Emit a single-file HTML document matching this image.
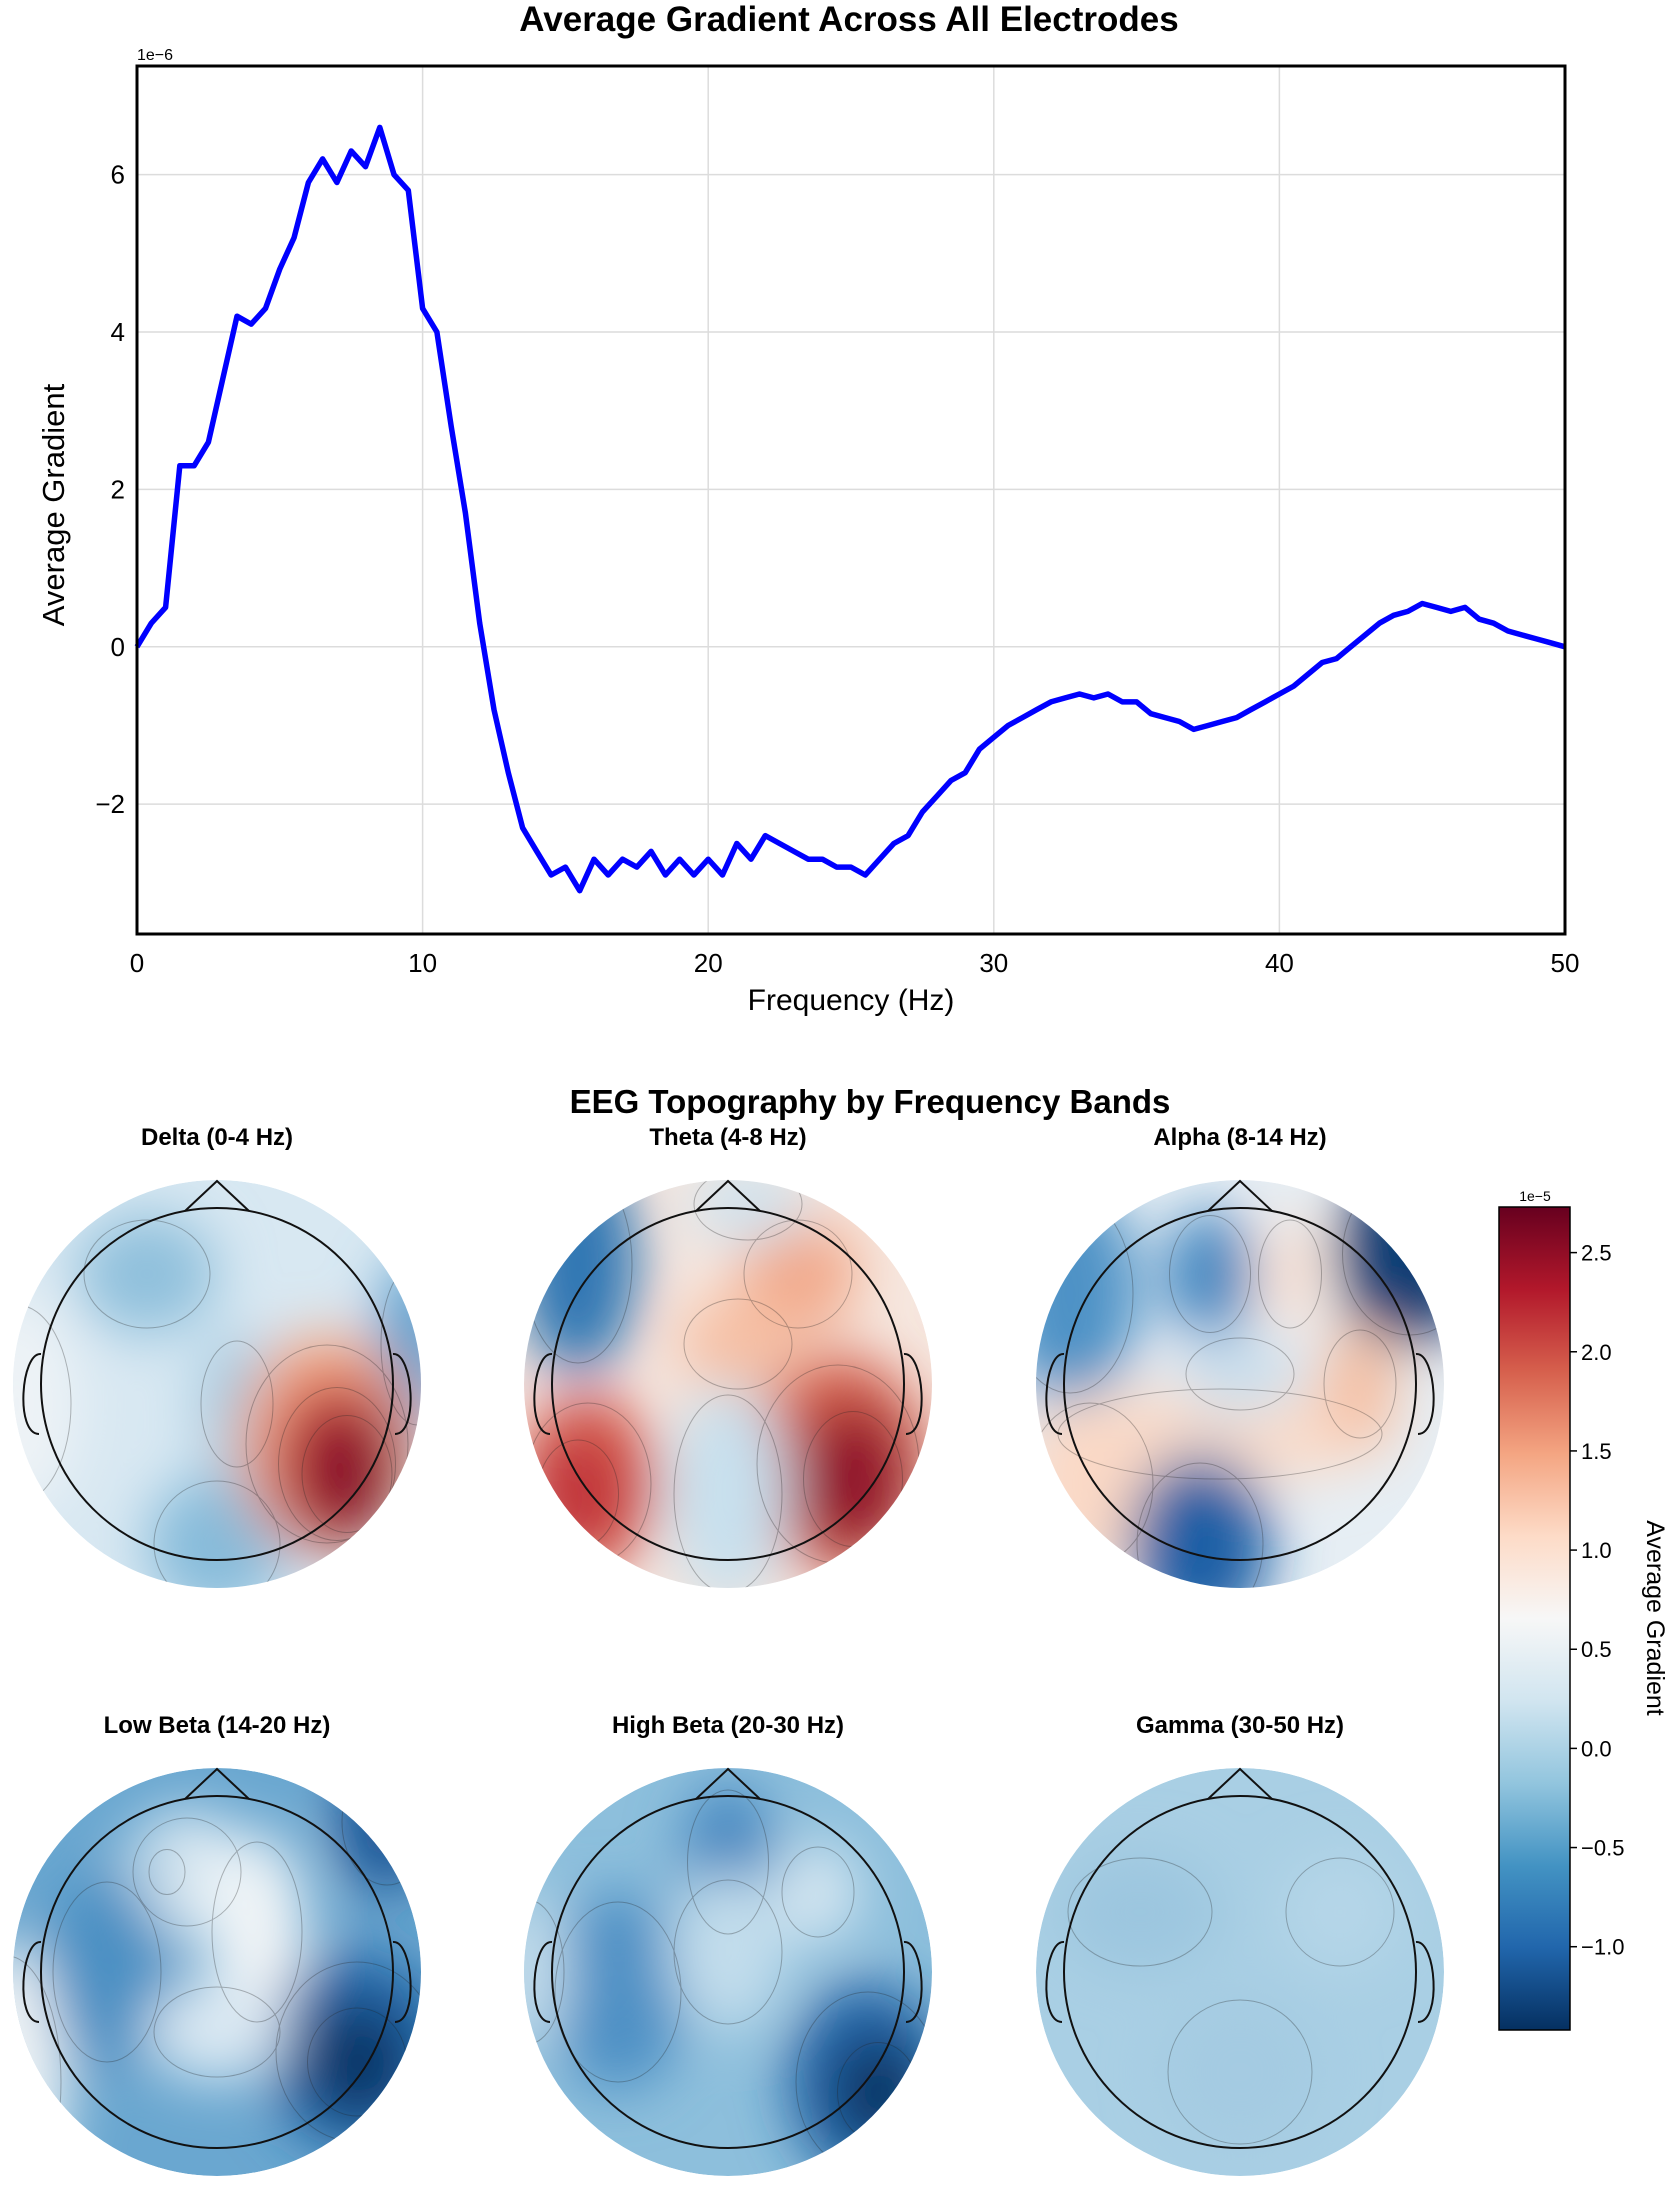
<!DOCTYPE html>
<html><head><meta charset="utf-8">
<style>
html,body{margin:0;padding:0;background:#fff;}
svg{display:block;font-family:"Liberation Sans","DejaVu Sans",sans-serif;}
</style></head>
<body>
<svg id="root" width="1678" height="2196" viewBox="0 0 1678 2196" xmlns="http://www.w3.org/2000/svg">
<defs>
  <filter id="blur" x="-50%" y="-50%" width="200%" height="200%"><feGaussianBlur stdDeviation="28"/></filter>
  <linearGradient id="cbar" x1="0" y1="1" x2="0" y2="0">
    <stop offset="0" stop-color="#053061"/><stop offset="0.1" stop-color="#2166ac"/>
    <stop offset="0.2" stop-color="#4393c3"/><stop offset="0.3" stop-color="#92c5de"/>
    <stop offset="0.4" stop-color="#d1e5f0"/><stop offset="0.5" stop-color="#f7f7f7"/>
    <stop offset="0.6" stop-color="#fddbc7"/><stop offset="0.7" stop-color="#f4a582"/>
    <stop offset="0.8" stop-color="#d6604d"/><stop offset="0.9" stop-color="#b2182b"/>
    <stop offset="1" stop-color="#67001f"/>
  </linearGradient>
</defs>
<text x="849" y="31" text-anchor="middle" font-size="35" font-weight="bold">Average Gradient Across All Electrodes</text>
<g id="plot"></g>
<text x="870" y="1113" text-anchor="middle" font-size="33" font-weight="bold">EEG Topography by Frequency Bands</text>
<g id="topos"></g>
<g id="colorbar"></g>
</svg>
<script>
const NS="http://www.w3.org/2000/svg";
function mk(tag,attrs,parent,txt){const e=document.createElementNS(NS,tag);for(const k in attrs)e.setAttribute(k,attrs[k]);if(txt!==undefined)e.textContent=txt;parent.appendChild(e);return e;}

// ---- line chart data (0..50 Hz, 0.5 Hz step) ----
const freqStep=0.5;
const gradValues=[0,0.3,0.5,2.3,2.3,2.6,3.4,4.2,4.1,4.3,4.8,5.2,5.9,6.2,5.9,6.3,6.1,6.6,6.0,5.8,4.3,4.0,2.8,1.7,0.3,-0.8,-1.6,-2.3,-2.6,-2.9,-2.8,-3.1,-2.7,-2.9,-2.7,-2.8,-2.6,-2.9,-2.7,-2.9,-2.7,-2.9,-2.5,-2.7,-2.4,-2.5,-2.6,-2.7,-2.7,-2.8,-2.8,-2.9,-2.7,-2.5,-2.4,-2.1,-1.9,-1.7,-1.6,-1.3,-1.15,-1.0,-0.9,-0.8,-0.7,-0.65,-0.6,-0.65,-0.6,-0.7,-0.7,-0.85,-0.9,-0.95,-1.05,-1.0,-0.95,-0.9,-0.8,-0.7,-0.6,-0.5,-0.35,-0.2,-0.15,0.0,0.15,0.3,0.4,0.45,0.55,0.5,0.45,0.5,0.35,0.3,0.2,0.15,0.1,0.05,0.0];
const xTicks=[0,10,20,30,40,50];
const yTicks=[-2,0,2,4,6];
const X0=137,X1=1565,Y0=66,Y1=934,XMIN=0,XMAX=50,YMIN=-3.65,YMAX=7.38;
const sx=v=>X0+(v-XMIN)/(XMAX-XMIN)*(X1-X0);
const sy=v=>Y1-(v-YMIN)/(YMAX-YMIN)*(Y1-Y0);
const P=document.getElementById('plot');
xTicks.forEach(t=>{
  const g=mk('line',{x1:sx(t),x2:sx(t),y1:Y0,y2:Y1,stroke:'#dcdcdc','stroke-width':1.5},P);
  
  
  const tl=mk('text',{x:sx(t),y:Y1+38,'text-anchor':'middle','font-size':26},P,String(t));
  
  
});
yTicks.forEach(t=>{
  const g=mk('line',{x1:X0,x2:X1,y1:sy(t),y2:sy(t),stroke:'#dcdcdc','stroke-width':1.5},P);
  
  
  const tl=mk('text',{x:X0-12,y:sy(t)+9,'text-anchor':'end','font-size':26},P,t<0?'\u2212'+(-t):String(t));
  
  
});
let d='';gradValues.forEach((v,i)=>{d+=(i?'L':'M')+sx(i*freqStep).toFixed(1)+','+sy(v).toFixed(1);});
const ln=mk('path',{d:d,fill:'none',stroke:'#0000ff','stroke-width':5.5,'stroke-linejoin':'round'},P);


const fr=mk('rect',{x:X0,y:Y0,width:X1-X0,height:Y1-Y0,fill:'none',stroke:'#000','stroke-width':3},P);


const ex=mk('text',{x:X0,y:Y0-6,'font-size':16},P,'1e\u22126');


const xl=mk('text',{x:(X0+X1)/2,y:1010,'text-anchor':'middle','font-size':30},P,'Frequency (Hz)');


const yl=mk('text',{x:0,y:0,'text-anchor':'middle','font-size':31,transform:'translate(64,505) rotate(-90)'},P,'Average Gradient');



// ---- topomaps ----
const bandNames=['Delta (0-4 Hz)','Theta (4-8 Hz)','Alpha (8-14 Hz)','Low Beta (14-20 Hz)','High Beta (20-30 Hz)','Gamma (30-50 Hz)'];
const centers=[[217,1384],[728,1384],[1240,1384],[217,1972],[728,1972],[1240,1972]];
const bases=['#d8e8f2','#f6e7df','#e6eef4','#6aa7d0','#8dbfdc','#a9cfe4'];
const blobs=[
 [[-70,-110,70,60,'#8fc0dc'],[0,160,70,70,'#86bbda'],[20,20,40,70,'#a3cbe2'],[200,-40,40,90,'#5d9fcd'],[-200,20,60,110,'#eef3f6'],[110,60,90,110,'#f4a582'],[120,80,65,85,'#c43c3c'],[130,90,50,65,'#8a0a2a']],
 [[-150,-120,60,110,'#2f76b3'],[70,-110,60,60,'#f2a98a'],[10,-40,60,50,'#f6c0a4'],[-140,100,70,90,'#d4594a'],[-150,110,45,60,'#c0303a'],[110,80,90,110,'#d6604d'],[125,95,55,75,'#8f0d2c'],[0,110,60,110,'#c7e0ee'],[20,-180,60,40,'#cfe3ef']],
 [[-170,-90,70,110,'#4d92c6'],[-30,-110,45,65,'#3f85c0'],[170,-130,75,90,'#0d3c73'],[50,-110,35,60,'#fbe3d6'],[-20,50,180,50,'#f9dccb'],[120,0,40,60,'#f5bfa3'],[-150,100,70,90,'#fbd9c6'],[-40,160,70,90,'#1f5fa5'],[0,-10,60,40,'#c9dfee']],
 [[40,-40,50,100,'#f2f5f7'],[-30,-100,60,60,'#e8f1f6'],[-50,-100,20,25,'#9bc6df'],[-210,110,60,140,'#f0f4f6'],[-110,0,60,100,'#4a8fc3'],[140,80,90,100,'#2366a8'],[140,90,55,60,'#0b3566'],[170,-150,50,70,'#1b5595'],[0,60,70,50,'#dbe9f3']],
 [[0,-110,45,80,'#4486c0'],[-110,20,70,100,'#4d90c5'],[140,110,80,100,'#2164a6'],[150,120,45,55,'#07315e'],[0,-20,60,80,'#c2ddec'],[90,-80,40,50,'#d8e8f2'],[-200,0,40,80,'#c5deec']],
 [[-100,-60,80,60,'#9cc6df'],[100,-60,60,60,'#b5d6e8'],[0,100,80,80,'#a4cbe2']]
];
const T=document.getElementById('topos');
bandNames.forEach((nm,i)=>{
  const [cx,cy]=centers[i];
  const g=mk('g',{},T);
  
  
  const tt=mk('text',{x:cx,y:cy-239,'text-anchor':'middle','font-size':24,'font-weight':'bold'},g,nm);
  
  
  const cp=mk('clipPath',{id:'cp'+i},g);mk('circle',{cx:cx,cy:cy,r:204},cp);
  const inner=mk('g',{'clip-path':'url(#cp'+i+')'},g);
  mk('circle',{cx:cx,cy:cy,r:204,fill:bases[i]},inner);
  const bg=mk('g',{filter:'url(#blur)'},inner);
  blobs[i].forEach(b=>{mk('ellipse',{cx:cx+b[0],cy:cy+b[1],rx:b[2],ry:b[3],fill:b[4]},bg);});
  const cg=mk('g',{fill:'none',stroke:'#222','stroke-width':1,opacity:0.3},inner);
  blobs[i].forEach(b=>{mk('ellipse',{cx:cx+b[0],cy:cy+b[1],rx:b[2]*0.9,ry:b[3]*0.9},cg);});
  const h=mk('g',{fill:'none',stroke:'#111','stroke-width':2},g);
  
  
  mk('circle',{cx:cx,cy:cy,r:176},h);
  mk('path',{d:`M${cx-32},${cy-173} L${cx},${cy-203} L${cx+32},${cy-173}`},h);
  mk('path',{d:`M${cx-176},${cy-30} C${cx-196},${cy-32} ${cx-202},${cy+50} ${cx-178},${cy+50}`},h);
  mk('path',{d:`M${cx+176},${cy-30} C${cx+196},${cy-32} ${cx+202},${cy+50} ${cx+178},${cy+50}`},h);
});

// ---- colorbar ----
const cbTicks=[-1.0,-0.5,0.0,0.5,1.0,1.5,2.0,2.5];
const CB0=2030,CB1=1207,CBMIN=-1.42,CBMAX=2.73;
const cy_=v=>CB0-(v-CBMIN)/(CBMAX-CBMIN)*(CB0-CB1);
const C=document.getElementById('colorbar');
const cr=mk('rect',{x:1499,y:CB1,width:71,height:CB0-CB1,fill:'url(#cbar)',stroke:'#000','stroke-width':1.5},C);


cbTicks.forEach(t=>{
  mk('line',{x1:1570,x2:1577,y1:cy_(t),y2:cy_(t),stroke:'#000','stroke-width':1.5},C);
  const s=(t<0?'\u2212':'')+Math.abs(t).toFixed(1);
  const tl=mk('text',{x:1581,y:cy_(t)+8,'font-size':22},C,s);
  
  
});
const ce=mk('text',{x:1535,y:CB1-6,'font-size':14,'text-anchor':'middle'},C,'1e\u22125');


const cl=mk('text',{x:0,y:0,'font-size':25,'text-anchor':'middle',transform:'translate(1647,1618) rotate(90)'},C,'Average Gradient');


</script>
</body></html>
